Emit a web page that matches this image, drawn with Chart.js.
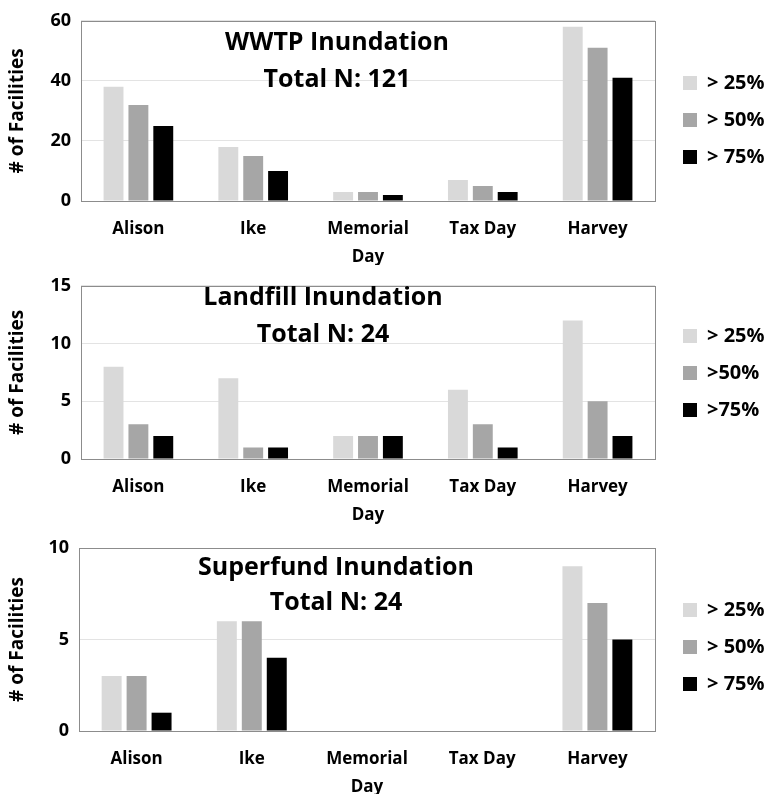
<!DOCTYPE html>
<html>
<head>
  <title>Facility Inundation</title>
  <script src="https://cdn.jsdelivr.net/npm/chart.js"></script>
  <style>
    body { margin: 0; background: #fff; }
    canvas { position: absolute; left: 0; }
  </style>
</head>
<body>
  <canvas id="wwtpChart" width="766" height="265" style="top:0px"></canvas>
  <canvas id="landfillChart" width="766" height="260" style="top:265px"></canvas>
  <canvas id="superfundChart" width="766" height="269" style="top:525px"></canvas>

  <script>
    // Storm events (x axis)
    const events = ['Alison', 'Ike', ['Memorial', 'Day'], 'Tax Day', 'Harvey'];

    // WWTP
    const wwtp25 = [38, 18, 3, 7, 58];
    const wwtp50 = [32, 15, 3, 5, 51];
    const wwtp75 = [25, 10, 2, 3, 41];
    const wwtpLabels = ['> 25%', '> 50%', '> 75%'];
    const wwtpTicks = [0, 20, 40, 60];

    // Landfill
    const landfill25 = [8, 7, 2, 6, 12];
    const landfill50 = [3, 1, 2, 3, 5];
    const landfill75 = [2, 1, 2, 1, 2];
    const landfillLabels = ['> 25%', '>50%', '>75%'];
    const landfillTicks = [0, 5, 10, 15];

    // Superfund
    const superfund25 = [3, 6, 0, 0, 9];
    const superfund50 = [3, 6, 0, 0, 7];
    const superfund75 = [1, 4, 0, 0, 5];
    const superfundLabels = ['> 25%', '> 50%', '> 75%'];
    const superfundTicks = [0, 5, 10];

    const barColors = ['#d9d9d9', '#a6a6a6', '#000000'];

    Chart.defaults.font.family = "'Open Sans', sans-serif";
    Chart.defaults.font.weight = 'bold';
    Chart.defaults.color = '#000';

    // plot frame + title text inside the plot
    const frameAndTitle = {
      id: 'frameAndTitle',
      afterDatasetsDraw(chart, args, opts) {
        const { ctx, chartArea: a } = chart;
        ctx.save();
        ctx.strokeStyle = '#8c8c8c';
        ctx.lineWidth = 1;
        ctx.strokeRect(Math.round(a.left) + 0.5, Math.round(a.top) + 0.5,
          Math.round(a.right - a.left), Math.round(a.bottom - a.top));
        ctx.fillStyle = '#000';
        ctx.font = "bold 25px 'Open Sans'";
        ctx.textAlign = 'center';
        ctx.textBaseline = 'alphabetic';
        opts.lines.forEach((t, i) => ctx.fillText(t, opts.x, opts.y[i]));
        ctx.restore();
      }
    };

    function makeChart(id, series, labels, ticks, cfg) {
      new Chart(document.getElementById(id), {
        type: 'bar',
        data: {
          labels: events,
          datasets: series.map((d, i) => ({
            label: labels[i],
            data: d,
            backgroundColor: barColors[i],
            borderWidth: 0,
            barPercentage: 0.8,
            categoryPercentage: 0.65
          }))
        },
        options: {
          responsive: false,
          animation: false,
          layout: { padding: { top: cfg.top, left: 0, right: 0, bottom: 0 } },
          plugins: {
            tooltip: { enabled: false },
            legend: {
              position: 'right',
              align: 'start',
              maxWidth: 100,
              title: { display: true, text: '', font: { size: 10, lineHeight: 1 }, padding: { top: cfg.legendTop - 10, bottom: 0 } },
              labels: { boxWidth: 14, boxHeight: 14, padding: 17, font: { size: 20, weight: 'bold' }, color: '#000' }
            },
            frameAndTitle: { lines: cfg.title, x: cfg.titleX, y: cfg.titleY }
          },
          scales: {
            x: {
              grid: { display: false },
              border: { display: false },
              ticks: { font: { size: 17, lineHeight: 1.6 }, padding: 7, maxRotation: 0, autoSkip: false },
              afterFit: s => { s.height = cfg.xHeight; }
            },
            y: {
              min: ticks[0],
              max: ticks[ticks.length - 1],
              grid: { color: '#e3e3e3', drawTicks: false },
              border: { display: false },
              ticks: { stepSize: ticks[1] - ticks[0], font: { size: 18 }, padding: 10 },
              title: { display: true, text: '# of Facilities', font: { size: 19 }, padding: { top: 6, bottom: 0 } },
              afterFit: s => { s.width = cfg.left; }
            },
            gap: {
              type: 'linear',
              position: 'right',
              grid: { display: false },
              border: { display: false },
              ticks: { display: false },
              afterFit: s => { s.width = 11; }
            }
          }
        },
        plugins: [frameAndTitle]
      });
    }

    makeChart('wwtpChart', [wwtp25, wwtp50, wwtp75], wwtpLabels, wwtpTicks,
      { top: 15, left: 81, xHeight: 64, legendTop: 41, title: ['WWTP Inundation', 'Total N: 121'], titleX: 337, titleY: [50, 87] });
    makeChart('landfillChart', [landfill25, landfill50, landfill75], landfillLabels, landfillTicks,
      { top: 17, left: 81, xHeight: 66, legendTop: 27, title: ['Landfill Inundation', 'Total N: 24'], titleX: 323, titleY: [40, 77] });
    makeChart('superfundChart', [superfund25, superfund50, superfund75], superfundLabels, superfundTicks,
      { top: 23, left: 79, xHeight: 63, legendTop: 35, title: ['Superfund Inundation', 'Total N: 24'], titleX: 336, titleY: [50, 85] });
  </script>
</body>
</html>
